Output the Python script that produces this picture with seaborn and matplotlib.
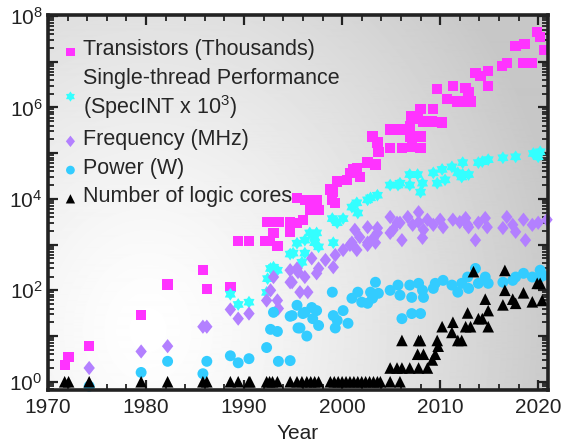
import numpy as np
import pandas as pd
import matplotlib
matplotlib.use("Agg")
import matplotlib.pyplot as plt
import seaborn as sns
from matplotlib.ticker import LogLocator, FuncFormatter, MultipleLocator, NullFormatter

# ---------------------------------------------------------------- data
tr_year = [1971.7, 1972.1, 1974.2, 1979.5, 1982.2, 1985.8, 1986.2, 1988.6, 1989.4, 1990.5,
           1992.1, 1992.6, 1992.4, 1993.5, 1993.0, 1993.4, 1994.7, 1994.7, 1994.7, 1995.4,
           1995.4, 1996.0, 1996.2, 1996.9, 1997.4, 1996.7, 1997.6, 1998.8, 1999.1, 1999.0,
           1999.3, 1999.5, 2000.5, 2000.8, 2001.1, 2001.5, 2001.8, 2002.6, 2003.4, 2003.1,
           2003.6, 2003.7, 2004.9, 2004.9, 2005.9, 2006.1, 2006.9, 2006.9, 2007.1, 2007.0,
           2007.7, 2008.0, 2008.0, 2008.0, 2008.3, 2009.2, 2009.3, 2010.2, 2009.7, 2010.7,
           2011.3, 2011.7, 2012.6, 2012.9, 2012.8, 2013.1, 2013.6, 2014.1, 2014.9, 2014.9,
           2016.3, 2016.8, 2017.7, 2018.6, 2018.5, 2019.0, 2019.4, 2019.9, 2020.2, 2020.6]
tr_kilo = [2.3, 3.5, 6, 29, 134, 275, 105, 120, 1200, 1200,
           1200, 1200, 3100, 3100, 1800, 930, 3100, 2400, 1900, 3000,
           10500, 3500, 9500, 9500, 9500, 5700, 5700, 16000, 14000, 9500,
           8000, 24000, 26000, 37000, 44000, 48000, 30000, 62000, 56000, 230000,
           170000, 107000, 330000, 130000, 330000, 130000, 380000, 230000, 140000, 630000,
           550000, 910000, 230000, 130000, 490000, 490000, 910000, 470000, 2500000, 1500000,
           2900000, 1350000, 2700000, 2200000, 1350000, 1350000, 5600000, 4800000, 6200000, 2900000,
           7900000, 9300000, 22000000, 24000000, 9300000, 9300000, 9300000, 44000000, 34000000, 18000000]

st_year = [1988.6, 1989.4, 1990.5, 1992.3, 1992.4, 1992.7, 1993.0, 1993.4, 1994.7, 1995.4,
           1995.0, 1995.9, 1996.2, 1996.7, 1997.2, 1997.6, 1997.4, 1997.2, 1996.2, 1999.1,
           1999.0, 1999.5, 2000.1, 2001.0, 2001.6, 2001.5, 2002.6, 2002.9, 2003.6, 2004.9,
           2005.7, 2005.9, 2006.9, 2007.7, 2006.9, 2008.0, 2008.2, 2009.3, 2009.7, 2010.2,
           2010.5, 2011.2, 2011.8, 2012.3, 2012.2, 2012.3, 2012.9, 2013.9, 2014.3, 2014.9,
           2016.4, 2017.7, 2019.5, 2020.0, 2020.2]
st_perf = [82, 49, 55, 90, 180, 300, 320, 275, 620, 1070,
           650, 410, 650, 1800, 1450, 890, 1800, 1100, 1250, 1100,
           3700, 3000, 3700, 6600, 4900, 8200, 9500, 10500, 12000, 20000,
           20000, 22000, 34000, 34000, 20000, 14000, 22000, 37000, 22000, 44000,
           26000, 50000, 37000, 62000, 30000, 34000, 34000, 62000, 65000, 72000,
           79000, 83000, 98000, 83000, 107000]

fq_year = [1974.2, 1979.5, 1982.2, 1985.8, 1986.2, 1988.6, 1989.4, 1990.5, 1992.3, 1992.7,
           1993.0, 1993.4, 1993.5, 1994.7, 1994.7, 1995.4, 1994.9, 1995.5, 1996.2, 1995.7,
           1996.5, 1996.9, 1997.6, 1997.4, 1998.3, 1999.1, 1999.3, 2000.1, 2000.8, 2001.5,
           2001.8, 2002.6, 2003.4, 2003.6, 2001.3, 2002.6, 2003.6, 2001.0, 2002.6, 2003.2,
           2004.9, 2005.6, 2004.9, 2005.2, 2005.9, 2006.7, 2007.2, 2007.8, 2007.8, 2008.3,
           2008.2, 2008.7, 2009.3, 2010.0, 2010.3, 2011.3, 2012.0, 2012.8, 2006.1, 2012.6,
           2012.9, 2013.9, 2014.6, 2014.8, 2013.6, 2016.8, 2016.4, 2017.4, 2017.7, 2018.5,
           2018.7, 2019.4, 2020.0, 2020.9]
fq_mhz = [2, 4.6, 6, 16, 16, 38, 24, 31, 60, 100,
          195, 60, 40, 275, 150, 300, 150, 250, 195, 91,
          91, 500, 300, 235, 460, 320, 590, 760, 980, 760,
          1450, 980, 1100, 1800, 2100, 2400, 2300, 1100, 1100, 1400,
          4000, 3000, 1800, 2100, 3000, 4000, 2700, 5100, 3100, 2100,
          1400, 3500, 2700, 3500, 2400, 3500, 3100, 2700, 1250, 3800,
          2400, 3000, 3800, 2400, 1250, 4000, 2300, 2700, 1900, 3500,
          1250, 2700, 3000, 3500]

pw_year = [1974.2, 1979.5, 1982.2, 1985.8, 1986.2, 1988.6, 1989.4, 1990.5, 1992.3, 1992.7,
           1993.0, 1993.4, 1993.5, 1994.7, 1994.7, 1995.5, 1995.4, 1994.9, 1996.2, 1996.0,
           1996.9, 1997.4, 1997.0, 1997.6, 1995.7, 1996.4, 1999.0, 1999.1, 1999.5, 1999.3,
           2000.6, 2000.1, 2001.0, 2001.6, 2002.0, 2002.6, 2002.9, 2003.4, 2003.7, 2003.1,
           2004.9, 2005.7, 2005.9, 2006.9, 2007.1, 2007.8, 2008.2, 2008.3, 2009.3, 2009.5,
           2010.3, 2011.2, 2011.8, 2012.2, 2012.8, 2006.1, 2007.1, 2008.0, 2012.9, 2013.6,
           2013.9, 2014.6, 2014.9, 2016.4, 2017.4, 2017.7, 2018.5, 2019.4, 2020.2, 2020.2,
           2020.5]
pw_watt = [0.8, 1.6, 2.8, 1.5, 2.8, 3.7, 2.6, 3.2, 5.6, 14,
           33, 12.6, 2.8, 2.9, 27, 15, 47, 28, 33, 31,
           42, 36, 24, 17, 15, 10, 91, 28, 22, 15,
           19, 36, 67, 91, 55, 52, 91, 150, 86, 67,
           100, 130, 78, 130, 70, 142, 100, 70, 110, 142,
           165, 130, 91, 142, 195, 24, 31, 31, 110, 300,
           142, 195, 142, 150, 165, 195, 235, 195, 275, 195,
           210]

co_year = [1971.7, 1972.1, 1974.2, 1979.5, 1982.2, 1985.8, 1986.2, 1988.6, 1989.4, 1990.5,
           1990.6, 1992.3, 1992.6, 1992.9, 1993.4, 1994.7, 1995.4, 1995.9, 1996.4, 1996.8,
           1997.2, 1997.6, 1998.8, 1999.2, 1999.6, 2000.0, 2000.4, 2000.8, 2001.2, 2001.6,
           2002.0, 2002.4, 2002.8, 2003.2, 2003.6, 2003.9, 2004.9, 2005.9,
           2004.9, 2005.6, 2006.1, 2006.9, 2007.8, 2008.7, 2006.1, 2007.8, 2008.0, 2007.7,
           2008.3, 2009.7, 2009.2, 2009.5, 2009.8, 2010.2, 2011.2, 2011.3, 2011.8, 2012.2,
           2012.8, 2012.6, 2013.1, 2013.4, 2014.6, 2014.9, 2014.3, 2013.9, 2014.9, 2016.6,
           2016.6, 2016.4, 2017.4, 2017.7, 2018.5, 2019.4, 2019.9, 2020.2, 2020.4]
co_count = [1, 1, 1, 1, 1, 1, 1, 1, 1, 1,
            1, 1, 1, 1, 1, 1, 1, 1, 1, 1,
            1, 1, 1, 1, 1, 1, 1, 1, 1, 1,
            1, 1, 1, 1, 1, 1, 1, 1,
            2, 2, 2, 2, 2, 2, 8, 8, 8, 4,
            4, 8, 3, 4, 6, 16, 12, 20, 8, 8,
            32, 16, 16, 256, 64, 36, 24, 24, 16, 272,
            100, 48, 64, 52, 88, 56, 142, 142, 60]

labels = ["Transistors (Thousands)",
          "Single-thread Performance\n(SpecINT x 10$^3$)",
          "Frequency (MHz)",
          "Power (W)",
          "Number of logic cores"]

# ---------------------------------------------------------------- style
sns.set_style("ticks")
plt.rcParams["font.family"] = ["Liberation Sans", "DejaVu Sans"]
plt.rcParams["mathtext.fontset"] = "custom"
plt.rcParams["mathtext.rm"] = "Liberation Sans"
plt.rcParams["mathtext.it"] = "Liberation Sans:italic"
plt.rcParams["mathtext.bf"] = "Liberation Sans:bold"

fig = plt.figure(figsize=(5.62, 4.44), dpi=100)
pos = [48 / 562, 1 - 390 / 444, 500 / 562, 375 / 444]

# soft radial backdrop
bg = fig.add_axes(pos, zorder=0)
W, H = 500, 375
xx, yy = np.meshgrid(np.arange(W), np.arange(H))
d = np.sqrt(((xx - 100) / 420.0) ** 2 + ((yy - 315) / 500.0) ** 2)
shade = 1 - 0.22 * np.clip(d, 0, 1) ** 1.3
bg.imshow(shade, cmap="gray", vmin=0, vmax=1, aspect="auto", interpolation="bilinear")
bg.axis("off")

ax = fig.add_axes(pos, zorder=1)
ax.patch.set_alpha(0)

# marker shapes: upright diamond and a chunky six-pointed star
diamond = [(-0.8, 0), (0, 1), (0.8, 0), (0, -1), (-0.8, 0)]
ang = np.pi / 2 + np.arange(12) * np.pi / 6
rad = np.where(np.arange(12) % 2 == 0, 1.0, 0.62)
hexstar = [(r * np.cos(a), r * np.sin(a)) for r, a in zip(rad, ang)]
hexstar.append(hexstar[0])

series = [
    (tr_year, tr_kilo, "s", "#FF33FF", 55),
    (st_year, st_perf, hexstar, "#33FFFF", 85),
    (fq_year, fq_mhz, diamond, "#B380FF", 105),
    (pw_year, pw_watt, "o", "#33CCFF", 62),
    (co_year, co_count, "^", "#000000", 70),
]
for (xs, ys, mk, col, sz), lab in zip(series, labels):
    df = pd.DataFrame({"Year": xs, "Value": ys})
    sns.scatterplot(data=df, x="Year", y="Value", marker=mk, color=col, s=sz,
                    edgecolor="none", linewidth=0, label=lab, ax=ax, clip_on=False)

ax.set_yscale("log")
ax.set_xlim(1970, 2021)
ax.set_ylim(10 ** -0.18, 10 ** 8.02)

ax.xaxis.set_major_locator(MultipleLocator(10))
ax.xaxis.set_minor_locator(MultipleLocator(2))
ax.yaxis.set_major_locator(LogLocator(base=10, numticks=20))
ax.yaxis.set_minor_locator(LogLocator(base=10, subs=np.arange(2, 10), numticks=20))
ax.yaxis.set_minor_formatter(NullFormatter())


def exp_label(v, _):
    e = int(round(np.log10(v)))
    return r"$10^{%d}$" % e if (e % 2 == 0 and 0 <= e <= 8) else ""


ax.yaxis.set_major_formatter(FuncFormatter(exp_label))

for s in ax.spines.values():
    s.set_linewidth(2.6)
    s.set_color("#222222")
ax.tick_params(which="both", direction="in", top=True, right=True, colors="#222222")
ax.tick_params(which="major", length=7, width=1.6, labelsize=15, pad=6)
ax.tick_params(which="minor", length=4, width=1.3)
ax.tick_params(axis="y", which="major", pad=4)

ax.set_xlabel("Year", fontsize=15, labelpad=5, color="#222222")
ax.set_ylabel("")

leg = ax.legend(loc="upper left", bbox_to_anchor=(0.033, 0.935), frameon=False,
                fontsize=15.5, handlelength=0.55, handletextpad=0.3,
                labelspacing=0.36, borderaxespad=0, borderpad=0, markerscale=0.8)
# centre each legend marker against its (possibly two-line) label
for col in leg._legend_handle_box.get_children():
    for row in col.get_children():
        row.align = "center"

fig.savefig("out.png", dpi=100)
